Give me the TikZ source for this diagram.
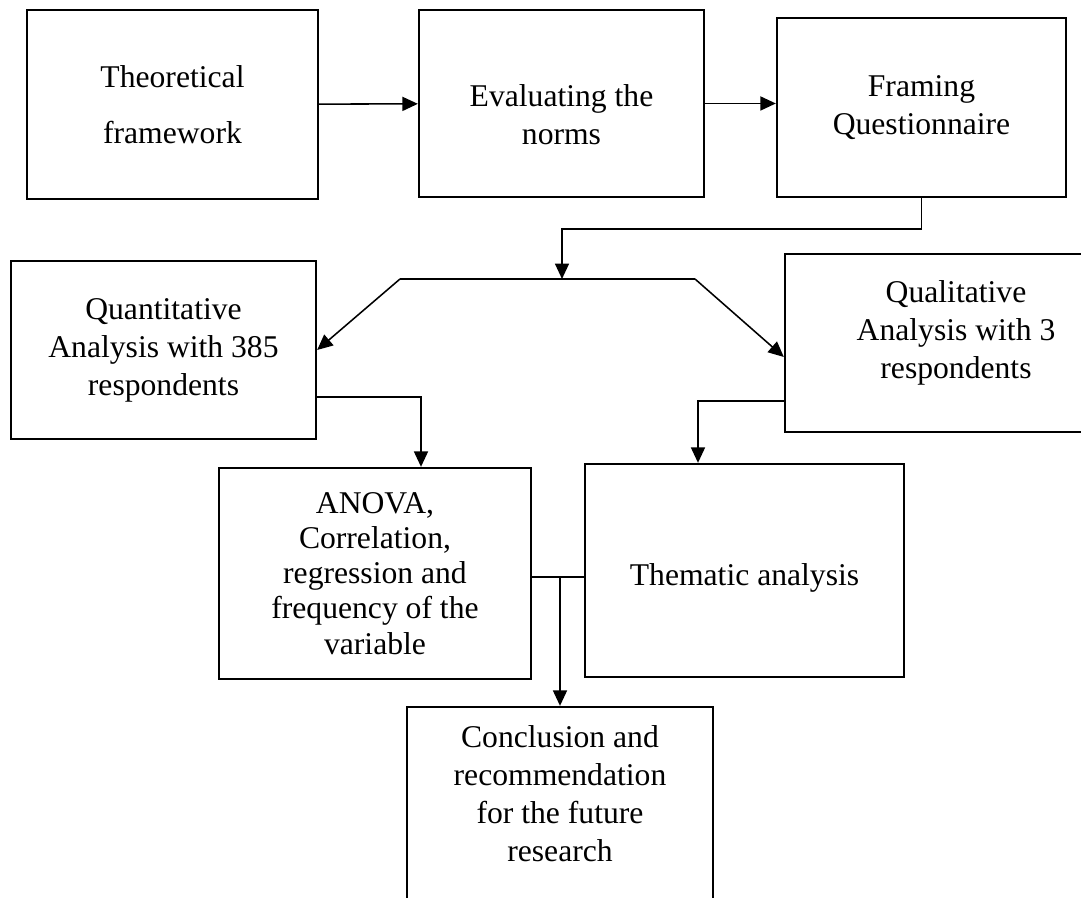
\documentclass[tikz,border=0pt]{standalone}
\usepackage{fontspec}
\setmainfont{Liberation Serif}
\usetikzlibrary{positioning,calc,arrows.meta}

\tikzset{
  stage/.style={draw,line width=1.6pt,align=center,inner sep=0pt,
    font=\fontsize{22.5}{27}\selectfont},
  link/.style={line width=1.1pt},
  >={Triangle[length=11pt,width=10pt]}
}

\begin{document}
\begin{tikzpicture}[x=0.025cm,y=0.025cm]
  \useasboundingbox (0,0) rectangle (1081,898);
  \clip (0,0) rectangle (1081,898);

  % top row
  \node[stage,minimum width=7.275cm,minimum height=4.725cm,
    font=\fontsize{22.5}{40}\selectfont] (theory) at (172.5,793.5) {Theoretical\\framework};
  \node[stage,minimum width=7.125cm,minimum height=4.675cm,text height=2.04cm] (norms) at (561.5,794.5) {Evaluating the\\norms};
  \node[stage,minimum width=7.225cm,minimum height=4.475cm] (frame) at (921.5,790.5) {Framing\\Questionnaire};

  % two kinds of analysis
  \node[stage,minimum width=7.625cm,minimum height=4.45cm] (quant) at (163.5,548) {Quantitative\\Analysis with 385\\respondents};
  \node[stage,minimum width=8.55cm,minimum height=4.45cm,text depth=0.675cm] (qual) at (956,555) {Qualitative\\Analysis with 3\\respondents};

  \node[stage,minimum width=7.8cm,minimum height=5.275cm,
    font=\fontsize{22.5}{25}\selectfont] (anova) at (375,324.5) {ANOVA,\\Correlation,\\regression and\\frequency of the\\variable};
  \node[stage,minimum width=7.975cm,minimum height=5.325cm,text height=0.94cm] (theme) at (744.5,327.5) {Thematic analysis};

  \node[stage,minimum width=7.65cm,minimum height=5.325cm,text depth=1cm] (concl) at (560,84.5) {Conclusion and\\recommendation\\for the future\\research};

  \coordinate (split) at (562,619);
  \coordinate (barL) at (400,619);
  \coordinate (barR) at (695,619);
  \coordinate (join) at (560,321);

  \path[link,->]
   (theory) edge (norms)
   (norms.east) edge (norms.east -| frame.west);
  \draw[link,->] (frame.south) -- ++(0,-31) -| (split);
  \draw[link] (barL) -- (barR);
  \draw[link,->] (barL) -- (quant.east);
  \draw[link,->] (barR) -- ($(qual.west)+(0,-14)$);
  \draw[link,->] ($(quant.east)+(0,-47)$) -| ($(anova.north)+(46,0)$);
  \draw[link,->] ($(qual.west)+(0,-58)$) -| ($(theme.north)+(-46.5,0)$);
  \draw[link] (anova.east |- join) -- (theme.west |- join);
  \draw[link,->] (join) -- (concl.north);
\end{tikzpicture}
\end{document}
